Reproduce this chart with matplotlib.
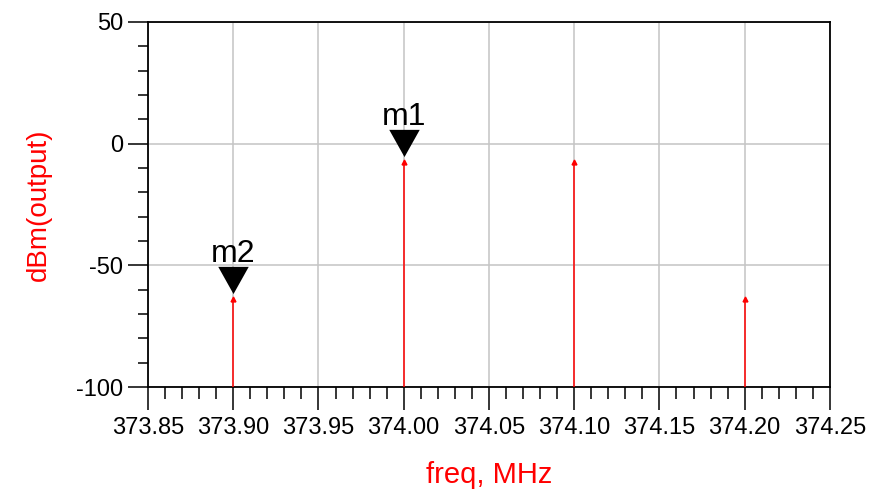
import matplotlib.pyplot as plt
from matplotlib.ticker import MultipleLocator

plt.rcParams["font.family"] = ["Liberation Sans", "DejaVu Sans"]
plt.rcParams["axes.unicode_minus"] = False

# tones
freq = [373.90, 374.00, 374.10, 374.20]
power = [-63.9, -7.7, -7.7, -63.9]

# markers placed on the trace
marker_names = ["m1", "m2"]
marker_freq = [374.00, 373.90]
marker_power = [-7.7, -63.9]

fig = plt.figure(figsize=(8.75, 4.91), dpi=100)
ax = fig.add_axes([0.1691, 0.2118, 0.7794, 0.7434])

ax.set_xlim(373.85, 374.25)
ax.set_ylim(-100, 50)

# stems from the bottom of the plot up to each tone
ax.vlines(freq, -100, power, color="red", linewidth=1.1, zorder=3)
ax.plot(freq, power, linestyle="none", marker="^", markersize=3.5,
        color="red", zorder=4)

# downward triangle markers, tip just above the point
tri = [(0, 0.2), (-0.56, 1.2), (0.56, 1.2), (0, 0.2)]
ax.plot(marker_freq, marker_power, linestyle="none", marker=tri,
        markersize=47, color="black", markeredgewidth=0, zorder=5,
        clip_on=False)
for name, fx, py in zip(marker_names, marker_freq, marker_power):
    ax.annotate(name, (fx, py), xytext=(0, 27), textcoords="offset points",
                ha="center", va="baseline", fontsize=23, color="black",
                zorder=6, annotation_clip=False)

ax.xaxis.set_major_locator(MultipleLocator(0.05))
ax.xaxis.set_minor_locator(MultipleLocator(0.01))
ax.yaxis.set_major_locator(MultipleLocator(50))
ax.yaxis.set_minor_locator(MultipleLocator(10))
ax.set_xticks([373.85 + 0.05 * i for i in range(9)])
ax.set_xticklabels(["%.2f" % (373.85 + 0.05 * i) for i in range(9)])

ax.grid(True, which="major", color="#c4c4c4", linewidth=1.1)
ax.set_axisbelow(True)

ax.tick_params(axis="x", which="major", direction="out", length=16.5,
               width=1.1, pad=5, labelsize=17)
ax.tick_params(axis="x", which="minor", direction="out", length=8.5, width=1.1)
ax.tick_params(axis="y", which="major", direction="out", length=14.5,
               width=1.1, pad=3.5, labelsize=17)
ax.tick_params(axis="y", which="minor", direction="out", length=7.2, width=1.1)

for s in ax.spines.values():
    s.set_linewidth(1.3)
    s.set_color("black")

ax.set_xlabel("freq, MHz", fontsize=21, color="red", labelpad=16)
ax.set_ylabel("dBm(output)", fontsize=20, color="red", labelpad=17)

fig.savefig("out.png", dpi=100)
